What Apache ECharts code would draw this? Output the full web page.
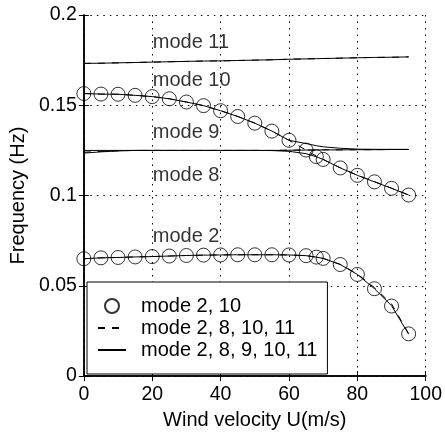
<!DOCTYPE html>
<html><head><meta charset="utf-8">
<script src="https://cdn.jsdelivr.net/npm/echarts@6/dist/echarts.min.js"></script>
<style>html,body{margin:0;padding:0;background:#fff}#c{width:445px;height:435px}</style>
</head><body><div id="c"></div>
<script>
// Wind velocity (m/s)
const U = [0,5,10,15,20,25,30,35,40,45,50,55,60,65,68,70,75,80,85,90,95];
// Circles (mode 2, 10 model)
const circMode2  = [0.0650,0.0655,0.0657,0.0660,0.0662,0.0665,0.0668,0.0670,0.0671,0.0672,0.0672,0.0672,0.0671,0.0667,0.0659,0.0652,0.0618,0.0563,0.0484,0.0388,0.0234];
const circMode10 = [0.1565,0.1562,0.1561,0.1555,0.1548,0.1536,0.1518,0.1498,0.1470,0.1438,0.1401,0.1357,0.1306,0.1252,0.1216,0.1200,0.1153,0.1112,0.1076,0.1040,0.1003];
// Dashed (mode 2, 8, 10, 11 model)
const dashMode2  = [0.0650,0.0655,0.0657,0.0660,0.0662,0.0665,0.0668,0.0670,0.0671,0.0672,0.0672,0.0672,0.0671,0.0667,0.0659,0.0652,0.0619,0.0566,0.0490,0.0400,0.0236];
const dashMode8  = [0.1240,0.1245,0.1248,0.1250,0.1250,0.1250,0.1250,0.1250,0.1250,0.1250,0.1250,0.1250,0.1251,0.1252,0.1252,0.1253,0.1253,0.1254,0.1254,0.1255,0.1255];
const dashMode10 = [0.1565,0.1562,0.1561,0.1555,0.1548,0.1536,0.1518,0.1498,0.1470,0.1438,0.1401,0.1357,0.1306,0.1252,0.1218,0.1200,0.1154,0.1113,0.1077,0.1041,0.1003];
const dashMode11 = [0.1732,0.1733,0.1735,0.1737,0.1739,0.1741,0.1743,0.1745,0.1746,0.1748,0.1750,0.1752,0.1755,0.1757,0.1758,0.1759,0.1761,0.1763,0.1765,0.1766,0.1768];
// Solid (mode 2, 8, 9, 10, 11 model)
const solidMode2  = [0.0650,0.0655,0.0657,0.0660,0.0662,0.0665,0.0668,0.0670,0.0671,0.0672,0.0672,0.0672,0.0671,0.0667,0.0659,0.0652,0.0618,0.0563,0.0484,0.0390,0.0232];
const solidMode8  = [0.1235,0.1242,0.1247,0.1250,0.1250,0.1250,0.1250,0.1250,0.1250,0.1250,0.1250,0.1250,0.1251,0.1252,0.1252,0.1253,0.1253,0.1254,0.1254,0.1255,0.1255];
const solidMode9  = [0.1250,0.1250,0.1250,0.1250,0.1250,0.1250,0.1250,0.1250,0.1250,0.1250,0.1250,0.1249,0.1245,0.1232,0.1215,0.1200,0.1153,0.1112,0.1076,0.1040,0.1003];
const solidMode10 = [0.1565,0.1562,0.1561,0.1555,0.1548,0.1536,0.1518,0.1498,0.1470,0.1438,0.1401,0.1357,0.1306,0.1288,0.1276,0.1270,0.1262,0.1257,0.1256,0.1256,0.1256];
const solidMode11 = dashMode11;
// Mode annotations
const modeLabels = ['mode 11','mode 10','mode 9','mode 8','mode 2'];
const modeLabelX = [20,20,20,20,20];
const modeLabelY = [0.1847,0.1635,0.1347,0.1113,0.0772];
// Axis ticks
const xTicks = {min:0, max:100, interval:20};
const yTicks = {min:0, max:0.2, interval:0.05};
const legendNames = ['mode 2, 10','mode 2, 8, 10, 11','mode 2, 8, 9, 10, 11'];

const FONT = '"Liberation Sans", Arial, Helvetica, sans-serif';
const CLEAR = 'rgba(0,0,0,0)';
const pts = ys => U.map((u,i)=>[u, ys[i]]);
const lineSeries = (name, ys, dashed) => ({
  name, type:'line', data: pts(ys), symbol:'circle', symbolSize:1, showSymbol:false,
  lineStyle:{color:'#000', width:1, type: dashed ? [7,7] : 'solid'},
  itemStyle:{color:CLEAR, borderColor:CLEAR, borderWidth:0}, z:2, silent:true
});
const circSeries = ys => ({
  name: legendNames[0], type:'scatter', data: pts(ys), symbol:'circle', symbolSize:14,
  itemStyle:{color:CLEAR, borderColor:'#000', borderWidth:1}, z:3, silent:true
});

const chart = echarts.init(document.getElementById('c'), null, {renderer:'canvas'});
chart.setOption({
  animation:false,
  backgroundColor:'#fff',
  textStyle:{fontFamily:FONT},
  grid:{left:76, right:18, top:15, bottom:52, containLabel:false},
  xAxis:[{
    type:'value', min:xTicks.min, max:xTicks.max, interval:xTicks.interval,
    name:'Wind velocity U(m/s)', nameLocation:'middle', nameGap:29,
    nameTextStyle:{fontSize:20, color:'#000', fontFamily:FONT},
    axisLine:{show:true, lineStyle:{color:'#000', width:1.5}},
    axisTick:{show:true, inside:true, length:5, lineStyle:{color:'#000'}},
    axisLabel:{fontSize:19.5, color:'#000', margin:9, fontFamily:FONT},
    splitLine:{show:true, lineStyle:{color:'#000', width:1, type:[1.5,5]}}
  },{
    type:'value', position:'top', min:xTicks.min, max:xTicks.max, interval:xTicks.interval,
    axisLine:{show:true, lineStyle:{color:'#000', width:1.5}},
    axisTick:{show:true, inside:true, length:5, lineStyle:{color:'#000'}},
    axisLabel:{show:false}, splitLine:{show:false}
  }],
  yAxis:[{
    type:'value', min:yTicks.min, max:yTicks.max, interval:yTicks.interval,
    name:'Frequency (Hz)', nameLocation:'middle', nameGap:55,
    nameTextStyle:{fontSize:20, color:'#000', fontFamily:FONT},
    axisLine:{show:true, lineStyle:{color:'#000', width:1.5}},
    axisTick:{show:true, inside:true, length:5, lineStyle:{color:'#000'}},
    axisLabel:{fontSize:19.5, color:'#000', margin:7, fontFamily:FONT,
      formatter: v => String(parseFloat(v.toFixed(3)))},
    splitLine:{show:true, lineStyle:{color:'#000', width:1, type:[1.5,5]}}
  },{
    type:'value', position:'right', min:yTicks.min, max:yTicks.max, interval:yTicks.interval,
    axisLine:{show:true, lineStyle:{color:'#000', width:1.5}},
    axisTick:{show:true, inside:true, length:5, lineStyle:{color:'#000'}},
    axisLabel:{show:false}, splitLine:{show:false}
  }],
  legend:{
    data: legendNames, orient:'vertical', left:87, top:282,
    backgroundColor:'#fff', borderColor:'#000', borderWidth:1, borderRadius:0,
    padding:[14,10,14,10], itemWidth:28, itemHeight:14, itemGap:2,
    selectedMode:false,
    textStyle:{fontSize:20, color:'#000', fontFamily:FONT, lineHeight:19, padding:[0,0,0,10]}
  },
  series:[
    lineSeries(legendNames[2], solidMode2, false),
    lineSeries(legendNames[2], solidMode8, false),
    lineSeries(legendNames[2], solidMode9, false),
    lineSeries(legendNames[2], solidMode10, false),
    lineSeries(legendNames[2], solidMode11, false),
    lineSeries(legendNames[1], dashMode2, true),
    lineSeries(legendNames[1], dashMode8, true),
    lineSeries(legendNames[1], dashMode10, true),
    lineSeries(legendNames[1], dashMode11, true),
    circSeries(circMode2),
    circSeries(circMode10),
    {
      name:'labels', type:'scatter', symbol:'circle', symbolSize:1, silent:true, z:1,
      itemStyle:{color:CLEAR},
      data: modeLabels.map((t,i)=>({value:[modeLabelX[i], modeLabelY[i]], name:t})),
      label:{show:true, position:'right', distance:0, formatter: p => p.name,
        fontSize:20, color:'#000', fontFamily:FONT}
    }
  ]
});
</script></body></html>
